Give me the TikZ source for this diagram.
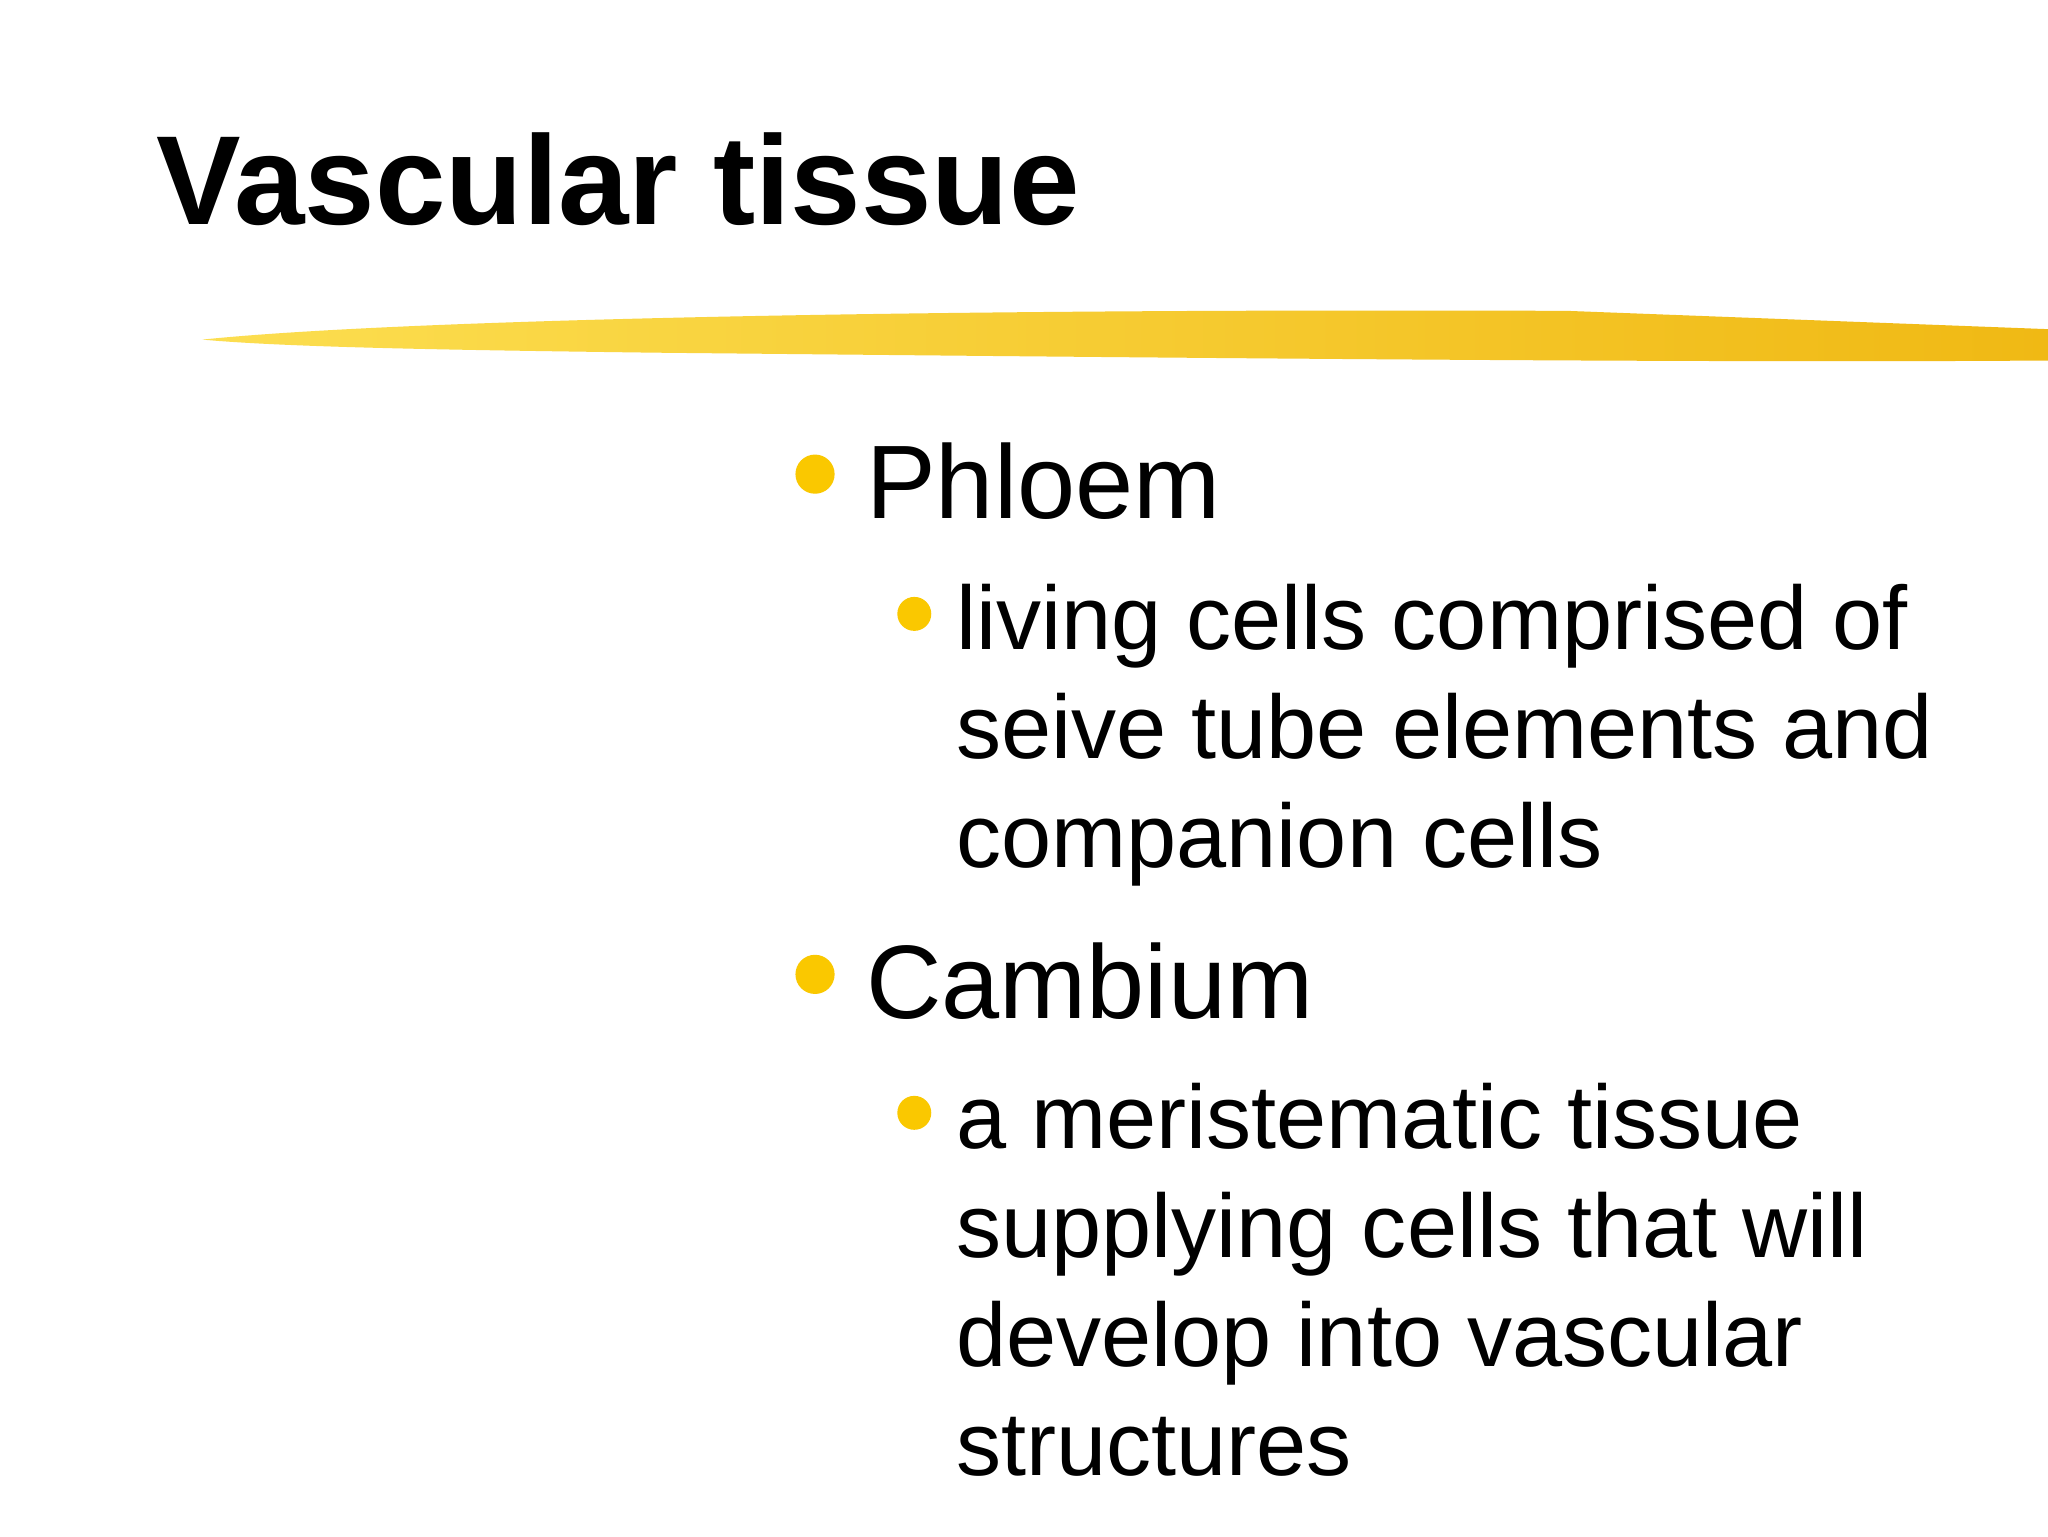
\documentclass[tikz,border=0pt]{standalone}
\usepackage{fontspec}
\setmainfont{Liberation Sans}
\definecolor{gold}{RGB}{250,200,0}
\definecolor{strokeA}{RGB}{252,222,80}
\definecolor{strokeB}{RGB}{240,185,20}
\tikzset{
  big/.style={anchor=base west,inner sep=0pt,font=\fontsize{80}{96}\selectfont},
  sub/.style={anchor=base west,inner sep=0pt,align=left,font=\fontsize{69}{83.5}\selectfont},
  dotA/.style={fill=gold,draw=none},
}
\begin{document}
\begin{tikzpicture}[x=1pt,y=-1pt]
\useasboundingbox (0,0) rectangle (1568,1176);
\fill[white] (0,0) rectangle (1568,1176);
% brush stroke
\shade[left color=strokeA,right color=strokeB,draw=none]
  (155,260) .. controls (300,245) and (700,236) .. (1200,238)
  -- (1568,252) -- (1568,276) .. controls (1300,278) and (900,274) .. (500,270)
  .. controls (350,268) and (220,266) .. (155,260) -- cycle;
\node[anchor=base west,inner sep=0pt,font=\fontsize{97}{110}\selectfont\bfseries] (title) at (120,172) {Vascular tissue};
\fill[dotA] (624,363) circle (15);
\node[big] (phloem) at (663,397) {Phloem};
\fill[dotA] (700,470) circle (13);
\node[sub,anchor=north west] (p1) at (732,447) {living cells comprised of\\seive tube elements and\\companion cells};
\fill[dotA] (624,746) circle (15);
\node[big] (camb) at (663,780) {Cambium};
\fill[dotA] (700,852) circle (13);
\node[sub,anchor=north west] (c1) at (732,829) {a meristematic tissue\\supplying cells that will\\develop into vascular\\structures};
\end{tikzpicture}
\end{document}
